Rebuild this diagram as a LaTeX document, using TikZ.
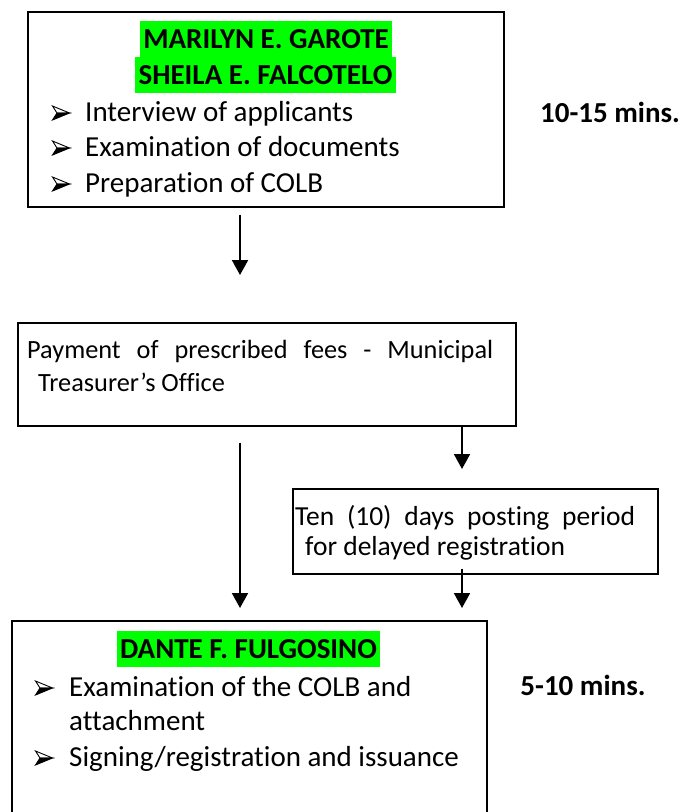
\documentclass[tikz,border=0pt]{standalone}
\usepackage{fontspec}
\setmainfont{Carlito}[Ligatures={NoCommon}]
\usetikzlibrary{arrows.meta}
\definecolor{hlgreen}{RGB}{0,255,0}
\tikzset{
  box/.style={draw=black, line width=1.6pt, anchor=north west, inner sep=0pt},
  txt/.style={anchor=base west, inner sep=0pt, font=\fontsize{29}{34}\selectfont},
  txtb/.style={anchor=base west, inner sep=0pt, font=\fontsize{26.3}{31}\selectfont},
  txtc/.style={anchor=base west, inner sep=0pt, font=\fontsize{27.5}{31}\selectfont},
  bold/.style={anchor=base, inner sep=0pt, font=\fontsize{29}{34}\selectfont\bfseries},
  hl/.style={fill=hlgreen, inner sep=0pt, font=\fontsize{29}{34}\selectfont\bfseries},
  arr/.style={line width=2pt, -{Triangle[width=16pt,length=15pt]}},
  bullet/.pic={
    \filldraw[fill=white, draw=black, line width=0.9pt, line join=miter]
      (-8.5,-7) -- (8.5,0) -- (-4,0) -- cycle;
    \filldraw[fill=black, draw=black, line width=0.9pt, line join=miter]
      (-4,0) -- (8.5,0) -- (-8.5,7) -- cycle;
  }
}
\begin{document}
\begin{tikzpicture}[x=1pt,y=-1pt]
\clip (0,0) rectangle (684,812);
\useasboundingbox (0,0) rectangle (684,812);
% boxes
\node[box, minimum width=476pt, minimum height=195pt] (b1) at (27,11) {};
\node[box, minimum width=498pt, minimum height=103pt] (b2) at (17,322) {};
\node[box, minimum width=365pt, minimum height=85pt] (b3) at (292,488) {};
\node[box, minimum width=475pt, minimum height=210pt] (b4) at (11,620) {};
% box 1 content
\node[hl, minimum width=252pt, minimum height=36pt] (n1) at (266,39) {MARILYN E. GAROTE};
\node[hl, minimum width=261pt, minimum height=36pt] (n2) at (265.5,75) {SHEILA E. FALCOTELO};
\pic (u1) at (61,113) {bullet};
\pic (u2) at (61,148) {bullet};
\pic (u3) at (61,184) {bullet};
\node[txt] (t1) at (85,121) {Interview of applicants};
\node[txt] (t2) at (85,156) {Examination of documents};
\node[txt] (t3) at (85,192) {Preparation of COLB};
\node[bold] (m1) at (610,122) {10-15 mins.};
% box 2 content
\node[txtb] (p1) at (27,358) {\makebox[466pt][s]{Payment of prescribed fees - Municipal}};
\node[txtb] (p2) at (38,391) {Treasurer’s Office};
% box 3 content
\node[txtc] (q1) at (295,525) {\makebox[340pt][s]{Ten (10) days posting period}};
\node[txtc] (q2) at (305,555) {for delayed registration};
% box 4 content
\node[hl, minimum width=263pt, minimum height=36pt] (n3) at (248.5,649) {DANTE F. FULGOSINO};
\pic (u4) at (44,688) {bullet};
\pic (u5) at (44,758) {bullet};
\node[txt] (s1) at (69,696) {Examination of the COLB and};
\node[txt] (s2) at (69,730) {attachment};
\node[txt] (s3) at (69,766) {Signing/registration and issuance};
\node[bold] (m2) at (583,695) {5-10 mins.};
% arrows
\coordinate (xl) at (240,0);
\coordinate (xr) at (462,0);
\draw[arr, shorten <=7pt, shorten >=47pt] (b1.south -| xl) -- (b2.north -| xl);
\draw[arr, shorten <=16pt, shorten >=12pt] (b2.south -| xl) -- (b4.north -| xl);
\draw[arr, shorten >=19pt] (b2.south -| xr) -- (b3.north -| xr);
\draw[arr, shorten <=-6pt, shorten >=12pt] (b3.south -| xr) -- (b4.north -| xr);
\end{tikzpicture}
\end{document}
